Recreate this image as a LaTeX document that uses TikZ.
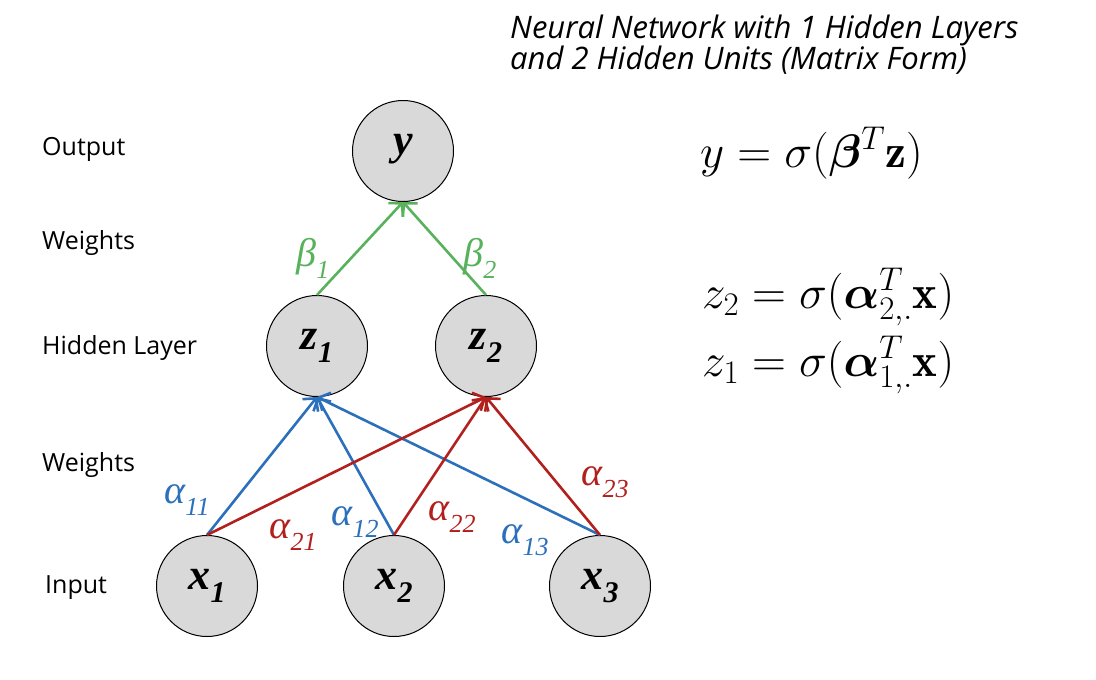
\RequirePackage{fix-cm}
\documentclass[tikz,border=0pt]{standalone}
\usepackage{amsmath,bm}
\usepackage{fontspec}
\usetikzlibrary{arrows.meta}
\newfontfamily\sansf{Open Sans}
\newfontfamily\serf{Liberation Serif}
\definecolor{bblue}{RGB}{44,111,187}
\definecolor{rred}{RGB}{178,32,30}
\definecolor{ggreen}{RGB}{88,178,92}
\definecolor{nodegray}{RGB}{217,217,217}
\newcommand{\nlab}[2]{{\serf\bfseries\itshape\fontsize{44}{44}\selectfont #1\raisebox{-0.28em}{\fontsize{30}{30}\selectfont #2}}}
\newcommand{\glab}[2]{{\serf\itshape\fontsize{40}{40}\selectfont #1\raisebox{-0.3em}{\fontsize{26}{26}\selectfont #2}}}
\tikzset{
  unit/.style={circle, draw=black, line width=1pt, fill=nodegray, minimum size=101pt, inner sep=0pt},
  side/.style={anchor=west, font=\sansf\fontsize{25}{25}\selectfont, inner sep=0pt},
  titleline/.style={anchor=base west, inner sep=0pt, font=\sansf\itshape\fontsize{31}{31}\selectfont},
  conn/.style={line width=2.6pt, -{Straight Barb[length=9pt,width=20pt]}},
  blueconn/.style={conn, draw=bblue},
  redconn/.style={conn, draw=rred},
  greenconn/.style={conn, draw=ggreen},
  eq/.style={anchor=base west, inner sep=0pt, font=\fontsize{47}{47}\selectfont},
}
\begin{document}
\begin{tikzpicture}[x=1pt,y=-1pt]
\useasboundingbox (0,0) rectangle (1096,680);
% title
\node[titleline] (title1) at (510,38) {Neural Network with 1 Hidden Layers};
\node[titleline] (title2) at (510,69) {and 2 Hidden Units (Matrix Form)};
% side labels
\node[side] (lout) at (42,149) {Output};
\node[side] (lw2) at (42,243) {Weights};
\node[side] (lhid) at (42,348) {Hidden Layer};
\node[side] (lw1) at (42,465) {Weights};
\node[side] (lin) at (45,588) {Input};
% nodes
\node[unit] (y) at (403,151) {\nlab{y}{}};
\node[unit] (z1) at (317,346) {\nlab{z}{1}};
\node[unit] (z2) at (486,346) {\nlab{z}{2}};
\node[unit] (x1) at (207,586) {\nlab{x}{1}};
\node[unit] (x2) at (394,586) {\nlab{x}{2}};
\node[unit] (x3) at (600,586) {\nlab{x}{3}};
% connectors
\draw[greenconn] (z1.north) -- (y.south);
\draw[greenconn] (z2.north) -- (y.south);
\draw[blueconn] (x1.north) -- (z1.south);
\draw[blueconn] (x2.north) -- (z1.south);
\draw[blueconn] (x3.north) -- (z1.south);
\draw[redconn] (x1.north) -- (z2.south);
\draw[redconn] (x2.north) -- (z2.south);
\draw[redconn] (x3.north) -- (z2.south);
% weight labels
\node[text=ggreen, inner sep=0pt] (b1) at (313,258) {\glab{β}{1}};
\node[text=ggreen, inner sep=0pt] (b2) at (480,258) {\glab{β}{2}};
\node[text=bblue, inner sep=0pt] (a11) at (187,500) {\glab{α}{11}};
\node[text=rred, inner sep=0pt] (a21) at (293,535) {\glab{α}{21}};
\node[text=bblue, inner sep=0pt] (a12) at (355,522) {\glab{α}{12}};
\node[text=rred, inner sep=0pt] (a22) at (452,517) {\glab{α}{22}};
\node[text=bblue, inner sep=0pt] (a13) at (525,540) {\glab{α}{13}};
\node[text=rred, inner sep=0pt] (a23) at (605,482) {\glab{α}{23}};
% equations
\node[eq] (ey) at (700,167) {$y=\sigma(\bm{\beta}^T\mathbf{z})$};
\node[eq] (ez2) at (702,308) {$z_2=\sigma(\bm{\alpha}_{2,.}^T\mathbf{x})$};
\node[eq] (ez1) at (702,376) {$z_1=\sigma(\bm{\alpha}_{1,.}^T\mathbf{x})$};
\end{tikzpicture}
\end{document}
